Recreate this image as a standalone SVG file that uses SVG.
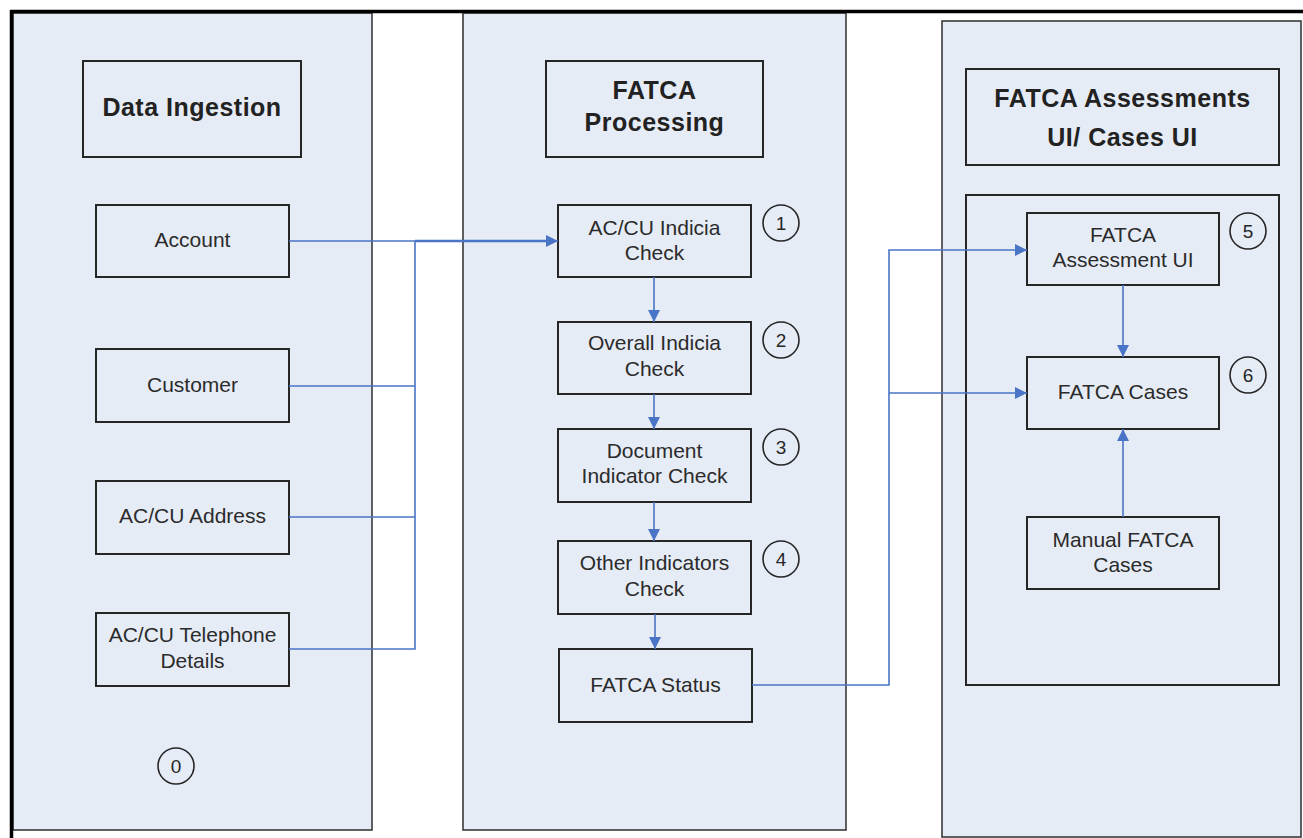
<svg xmlns="http://www.w3.org/2000/svg" width="1303" height="838" viewBox="0 0 1303 838">
<style>
.panel{fill:#e6ecf6;stroke:#3a3a3a;stroke-width:1.6}
.box{fill:#e6ecf6;stroke:#262626;stroke-width:2}
.t{font-family:"Liberation Sans",Arial,sans-serif;font-size:21px;fill:#2b2b2b;text-anchor:middle}
.h{font-family:"Liberation Sans",Arial,sans-serif;font-size:25px;font-weight:bold;fill:#222;text-anchor:middle;letter-spacing:0.5px}
.c{fill:none;stroke:#262626;stroke-width:1.6}
.n{font-family:"Liberation Sans",Arial,sans-serif;font-size:19px;fill:#262626;text-anchor:middle}
.ln{fill:none;stroke:#4a74c6;stroke-width:1.6}
</style>
<defs>
<marker id="ah" viewBox="0 0 10 10" refX="10" refY="5" markerWidth="12" markerHeight="12" markerUnits="userSpaceOnUse" orient="auto">
<path d="M0,0 L10,5 L0,10 z" fill="#4a74c6"/>
</marker>
</defs>
<rect width="1303" height="838" fill="#ffffff"/>

<g id="panel-left"><rect class="panel" x="13" y="13" width="359" height="817"/></g>
<g id="panel-middle"><rect class="panel" x="463" y="13" width="383" height="817"/></g>
<g id="panel-right"><rect class="panel" x="942" y="21" width="359" height="816"/></g>
<g id="frame">
<line x1="10" y1="11.5" x2="1303" y2="11.5" stroke="#000" stroke-width="3.5"/>
<line x1="11.5" y1="10" x2="11.5" y2="838" stroke="#000" stroke-width="3.5"/>
</g>

<g id="title-data-ingestion"><rect class="box" x="83" y="61" width="218" height="96"/><text class="h" x="192" y="116">Data Ingestion</text></g>
<g id="title-fatca-processing"><rect class="box" x="546" y="61" width="217" height="96"/><text class="h" x="654.5" y="99">FATCA</text><text class="h" x="654.5" y="131">Processing</text></g>
<g id="title-fatca-ui"><rect class="box" x="966" y="69" width="313" height="96"/><text class="h" x="1122.5" y="107">FATCA Assessments</text><text class="h" x="1122.5" y="146">UI/ Cases UI</text></g>
<g id="ui-container"><rect class="box" x="966" y="195" width="313" height="490"/></g>

<g id="account"><rect class="box" x="96" y="205" width="193" height="72"/><text class="t" x="192.5" y="247">Account</text></g>
<g id="customer"><rect class="box" x="96" y="349" width="193" height="73"/><text class="t" x="192.5" y="392">Customer</text></g>
<g id="address"><rect class="box" x="96" y="481" width="193" height="73"/><text class="t" x="192.5" y="523">AC/CU Address</text></g>
<g id="telephone"><rect class="box" x="96" y="613" width="193" height="73"/><text class="t" x="192.5" y="642">AC/CU Telephone</text><text class="t" x="192.5" y="668">Details</text></g>
<g id="step0"><circle class="c" cx="176" cy="766" r="18"/><text class="n" x="176" y="773">0</text></g>

<g id="indicia-check"><rect class="box" x="558" y="205" width="193" height="72"/><text class="t" x="654.5" y="235">AC/CU Indicia</text><text class="t" x="654.5" y="260">Check</text></g>
<g id="step1"><circle class="c" cx="781" cy="223" r="18"/><text class="n" x="781" y="230">1</text></g>
<g id="overall-check"><rect class="box" x="558" y="322" width="193" height="72"/><text class="t" x="654.5" y="350">Overall Indicia</text><text class="t" x="654.5" y="376">Check</text></g>
<g id="step2"><circle class="c" cx="781" cy="340" r="18"/><text class="n" x="781" y="347">2</text></g>
<g id="document-check"><rect class="box" x="558" y="429" width="193" height="73"/><text class="t" x="654.5" y="458">Document</text><text class="t" x="654.5" y="483">Indicator Check</text></g>
<g id="step3"><circle class="c" cx="781" cy="447" r="18"/><text class="n" x="781" y="454">3</text></g>
<g id="other-check"><rect class="box" x="558" y="541" width="193" height="73"/><text class="t" x="654.5" y="570">Other Indicators</text><text class="t" x="654.5" y="596">Check</text></g>
<g id="step4"><circle class="c" cx="781" cy="559" r="18"/><text class="n" x="781" y="566">4</text></g>
<g id="fatca-status"><rect class="box" x="559" y="649" width="193" height="73"/><text class="t" x="655.5" y="692">FATCA Status</text></g>

<g id="assessment-ui"><rect class="box" x="1027" y="213" width="192" height="72"/><text class="t" x="1123" y="242">FATCA</text><text class="t" x="1123" y="267">Assessment UI</text></g>
<g id="step5"><circle class="c" cx="1248" cy="231" r="18"/><text class="n" x="1248" y="238">5</text></g>
<g id="fatca-cases"><rect class="box" x="1027" y="357" width="192" height="72"/><text class="t" x="1123" y="399">FATCA Cases</text></g>
<g id="step6"><circle class="c" cx="1248" cy="375" r="18"/><text class="n" x="1248" y="382">6</text></g>
<g id="manual-cases"><rect class="box" x="1027" y="517" width="192" height="72"/><text class="t" x="1123" y="547">Manual FATCA</text><text class="t" x="1123" y="572">Cases</text></g>

<g id="connectors">
<path class="ln" d="M289,241 H558" marker-end="url(#ah)"/>
<path class="ln" d="M415,241 H548" style="stroke-width:2.6"/>
<path class="ln" d="M289,386 H415"/>
<path class="ln" d="M289,517 H415"/>
<path class="ln" d="M289,649 H415 V241"/>
<path class="ln" d="M654,277 V322" marker-end="url(#ah)"/>
<path class="ln" d="M654,394 V429" marker-end="url(#ah)"/>
<path class="ln" d="M654,502 V541" marker-end="url(#ah)"/>
<path class="ln" d="M655,614 V649" marker-end="url(#ah)"/>
<path class="ln" d="M752,685 H889 V250 H1027" marker-end="url(#ah)"/>
<path class="ln" d="M889,393 H1027" marker-end="url(#ah)"/>
<path class="ln" d="M1123,285 V357" marker-end="url(#ah)"/>
<path class="ln" d="M1123,517 V429" marker-end="url(#ah)"/>
</g>
</svg>
